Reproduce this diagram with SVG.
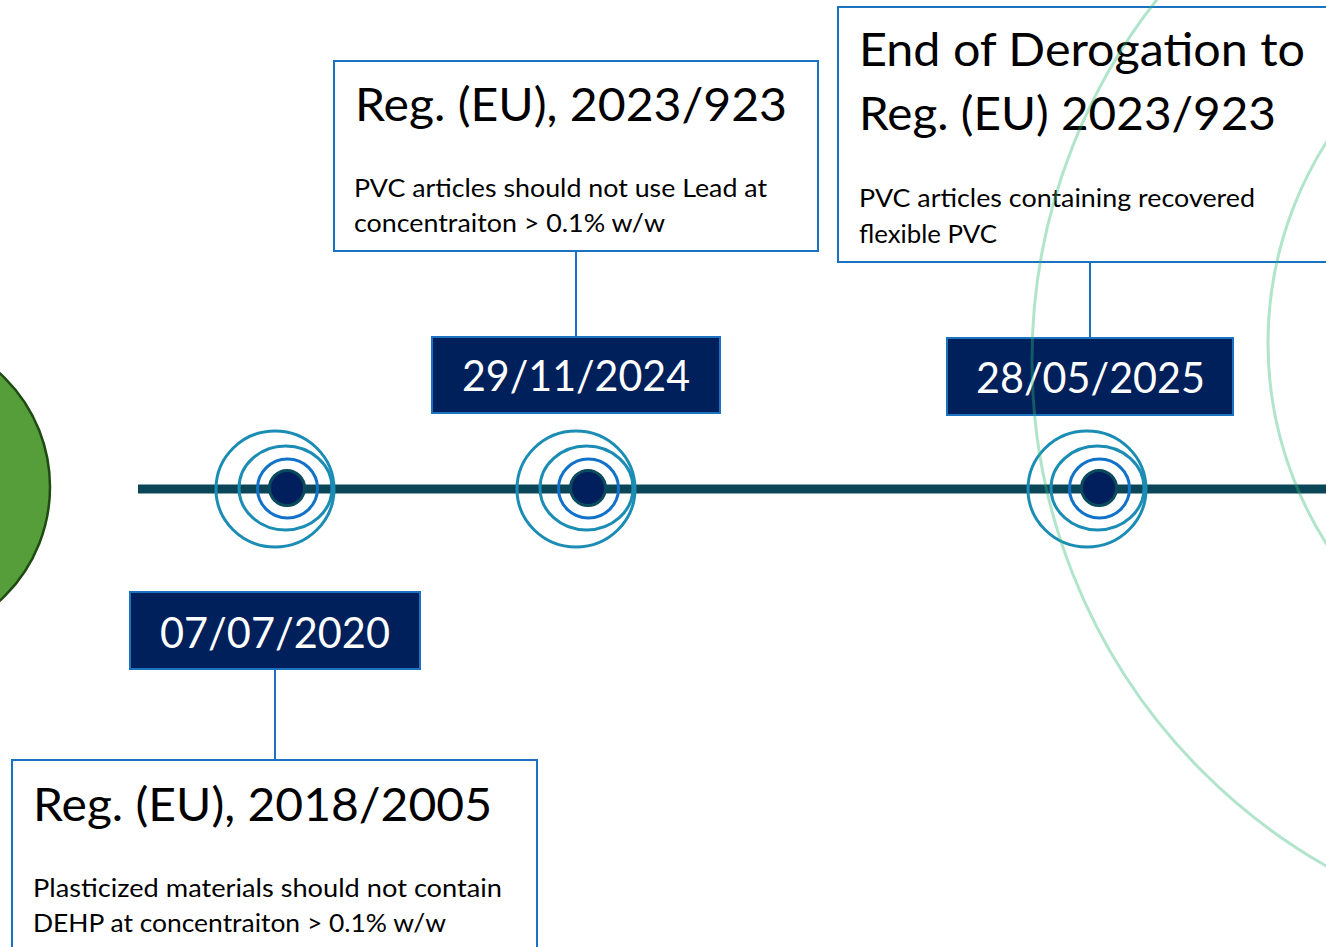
<svg xmlns="http://www.w3.org/2000/svg" xmlns:xlink="http://www.w3.org/1999/xlink" width="1326" height="947" viewBox="0 0 1326 947">
<style>
.box{fill:#ffffff;stroke:#1a72c0;stroke-width:2}
.date{fill:#00205b;stroke:#1a72c0;stroke-width:2}
.conn{stroke:#1a72c0;stroke-width:2;fill:none}
.title{font-family:Lato,"Liberation Sans",sans-serif;font-size:47px;fill:#000000}
.body{font-family:Lato,"Liberation Sans",sans-serif;font-size:25.5px;fill:#000000}
.dtxt{font-family:Lato,"Liberation Sans",sans-serif;font-size:42px;fill:#ffffff}
.ring{fill:none;stroke:#1b8db5;stroke-width:3}
.ring2{fill:none;stroke:#1272c9;stroke-width:3}
.dot{fill:#001f5c;stroke:#0a4a5c;stroke-width:3}
.arc{fill:none;stroke:#33bb77;stroke-opacity:0.38;stroke-width:3}
</style>
<defs>
<g id="mk">
<ellipse class="ring" cx="-12" cy="1" rx="59" ry="58"/>
<ellipse class="ring" cx="-1.5" cy="0" rx="46.5" ry="42"/>
<ellipse class="ring2" cx="0.5" cy="0.5" rx="30" ry="29.5"/>
<circle class="dot" cx="0" cy="0" r="17.5"/>
</g>
</defs>
<rect width="1326" height="947" fill="#ffffff"/>
<g id="green-circle">
<circle cx="-104" cy="487" r="154" fill="#559e3a" stroke="#1f4a12" stroke-width="2.5"/>
</g>
<g id="timeline">
<line x1="138" y1="489" x2="1326" y2="489" stroke="#0b4658" stroke-width="9"/>
</g>
<g id="connectors">
<line class="conn" x1="275" y1="669" x2="275" y2="760"/>
<line class="conn" x1="576" y1="251" x2="576" y2="337"/>
<line class="conn" x1="1090" y1="262" x2="1090" y2="338"/>
</g>
<g id="marker-2020"><use xlink:href="#mk" x="287" y="488"/></g>
<g id="marker-2024"><use xlink:href="#mk" x="588" y="488"/></g>
<g id="marker-2025"><use xlink:href="#mk" x="1099" y="488"/></g>
<g id="date-2020">
<rect class="date" x="130" y="592" width="290" height="77"/>
<text class="dtxt" x="160" y="648" textLength="230" lengthAdjust="spacingAndGlyphs">07/07/2020</text>
</g>
<g id="date-2024">
<rect class="date" x="432" y="337" width="288" height="76"/>
<text class="dtxt" x="462" y="391" textLength="228" lengthAdjust="spacingAndGlyphs">29/11/2024</text>
</g>
<g id="date-2025">
<rect class="date" x="947" y="338" width="286" height="77"/>
<text class="dtxt" x="976" y="393" textLength="229" lengthAdjust="spacingAndGlyphs">28/05/2025</text>
</g>
<g id="box-2018">
<rect class="box" x="12" y="760" width="525" height="200"/>
<text class="title" x="33" y="821" textLength="459" lengthAdjust="spacingAndGlyphs">Reg. (EU), 2018/2005</text>
<text class="body" x="33" y="897" textLength="469" lengthAdjust="spacingAndGlyphs">Plasticized materials should not contain</text>
<text class="body" x="33" y="932" textLength="413" lengthAdjust="spacingAndGlyphs">DEHP at concentraiton &gt; 0.1% w/w</text>
</g>
<g id="box-2023">
<rect class="box" x="334" y="61" width="484" height="190"/>
<text class="title" x="355" y="121" textLength="432" lengthAdjust="spacingAndGlyphs">Reg. (EU), 2023/923</text>
<text class="body" x="354" y="197" textLength="413" lengthAdjust="spacingAndGlyphs">PVC articles should not use Lead at</text>
<text class="body" x="354" y="232" textLength="311" lengthAdjust="spacingAndGlyphs">concentraiton &gt; 0.1% w/w</text>
</g>
<g id="box-derogation">
<rect class="box" x="838" y="7" width="500" height="255"/>
<text class="title" x="859" y="66" textLength="446" lengthAdjust="spacingAndGlyphs">End of Derogation to</text>
<text class="title" x="859" y="130" textLength="417" lengthAdjust="spacingAndGlyphs">Reg. (EU) 2023/923</text>
<text class="body" x="859" y="207" textLength="396" lengthAdjust="spacingAndGlyphs">PVC articles containing recovered</text>
<text class="body" x="859" y="243" textLength="138" lengthAdjust="spacingAndGlyphs">flexible PVC</text>
</g>
<g id="decor-arcs">
<circle class="arc" cx="1614" cy="360" r="582"/>
<circle class="arc" cx="1642" cy="343" r="374"/>
</g>
</svg>
